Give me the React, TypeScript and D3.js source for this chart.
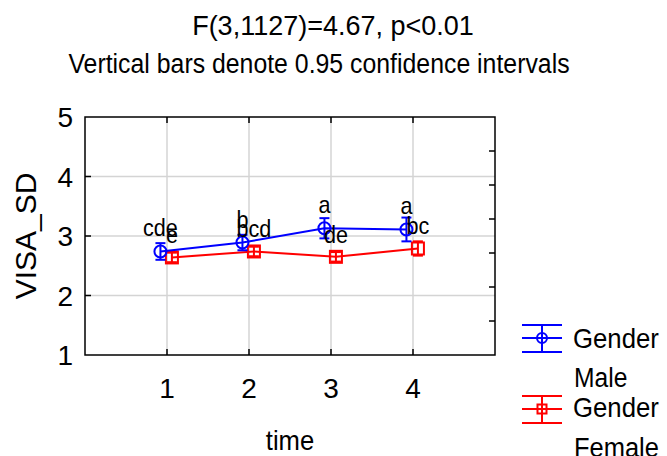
import React from 'react';
import * as d3 from 'd3';

// values
const times = [1, 2, 3, 4];
const maleMean = [2.74, 2.89, 3.13, 3.11];
const maleCI = [0.14, 0.13, 0.17, 0.2];
const femaleMean = [2.64, 2.74, 2.65, 2.79];
const femaleCI = [0.08, 0.08, 0.08, 0.12];
const maleLetters = ['cde', 'b', 'a', 'a'];
const femaleLetters = ['e', 'bcd', 'de', 'bc'];
const yTicks = [1, 2, 3, 4, 5];
const rightTicks = [1, 2, 3, 4, 5, 6];

const W = 667;
const H = 456;
const font = '"Liberation Sans", Arial, sans-serif';

// text with a slight horizontal squeeze, like the original renderer
const T = ({ x, y, size, anchor = 'start', sx = 1, rotate = 0, dy, children }: any) => (
  <g transform={`translate(${x},${y}) rotate(${rotate}) scale(${sx},1)`}>
    <text textAnchor={anchor} fontSize={size} dy={dy}>
      {children}
    </text>
  </g>
);

const App = () => {
  const left = 85;
  const right = 495;
  const top = 117;
  const bottom = 355;

  const x = d3.scaleLinear().domain([0, 5]).range([left, right]);
  const y = d3.scaleLinear().domain([1, 5]).range([bottom, top]);
  const yRight = d3.scaleLinear().domain([0, 7]).range([bottom, top]);

  const line = d3
    .line<number[]>()
    .x((d) => d[0])
    .y((d) => d[1]);

  const male = times.map((t, i) => [x(t - 0.08), y(maleMean[i])]);
  const female = times.map((t, i) => [x(t + 0.06), y(femaleMean[i])]);

  const blue = '#0000ff';
  const red = '#ff0000';

  return (
    <svg width={W} height={H} style={{ position: 'absolute', left: 0, top: 0 }} fontFamily={font}>
      <rect width={W} height={H} fill="#fff" />

      {/* titles */}
      <T x={333} y={35} size={27} anchor="middle">
        F(3,1127)=4.67, p&lt;0.01
      </T>
      <T x={319} y={73} size={27} sx={0.92} anchor="middle">
        Vertical bars denote 0.95 confidence intervals
      </T>

      {/* grid */}
      {times.map((t) => (
        <line key={'gx' + t} x1={x(t)} x2={x(t)} y1={top} y2={bottom} stroke="#d4d4d4" strokeWidth={1.5} />
      ))}
      {yTicks.slice(1, -1).map((v) => (
        <line key={'gy' + v} x1={left} x2={right} y1={y(v)} y2={y(v)} stroke="#d4d4d4" strokeWidth={1.5} />
      ))}

      {/* frame and inner ticks */}
      <rect x={left} y={top} width={right - left} height={bottom - top} fill="none" stroke="#000" strokeWidth={1.5} />
      {times.map((t) => (
        <g key={'tx' + t} stroke="#000" strokeWidth={1.5}>
          <line x1={x(t)} x2={x(t)} y1={top} y2={top + 6} />
          <line x1={x(t)} x2={x(t)} y1={bottom} y2={bottom - 6} />
        </g>
      ))}
      {yTicks.slice(1, -1).map((v) => (
        <line key={'ty' + v} x1={left} x2={left + 6} y1={y(v)} y2={y(v)} stroke="#000" strokeWidth={1.5} />
      ))}
      {rightTicks.map((v) => (
        <line key={'tr' + v} x1={right} x2={right - 6} y1={yRight(v)} y2={yRight(v)} stroke="#000" strokeWidth={1.5} />
      ))}

      {/* tick labels */}
      {yTicks.map((v) => (
        <T key={'ly' + v} x={73} y={y(v)} dy="0.36em" anchor="end" size={28}>
          {v}
        </T>
      ))}
      {times.map((t) => (
        <T key={'lx' + t} x={x(t)} y={398} anchor="middle" size={28}>
          {t}
        </T>
      ))}
      <T x={(left + right) / 2} y={450} anchor="middle" size={27} sx={0.95}>
        time
      </T>
      <T x={36} y={236} rotate={-90} anchor="middle" size={30}>
        VISA_SD
      </T>

      {/* female series */}
      <path d={line(female) || ''} fill="none" stroke={red} strokeWidth={2} />
      {female.map(([px, py], i) => {
        const lo = y(femaleMean[i] - femaleCI[i]);
        const hi = y(femaleMean[i] + femaleCI[i]);
        return (
          <g key={'f' + i} stroke={red} strokeWidth={2} fill="none">
            <line x1={px} x2={px} y1={lo} y2={hi} />
            <line x1={px - 5} x2={px + 5} y1={lo} y2={lo} />
            <line x1={px - 5} x2={px + 5} y1={hi} y2={hi} />
            <rect x={px - 6} y={py - 6} width={12} height={12} />
          </g>
        );
      })}

      {/* male series */}
      <path d={line(male) || ''} fill="none" stroke={blue} strokeWidth={2} />
      {male.map(([px, py], i) => {
        const lo = y(maleMean[i] - maleCI[i]);
        const hi = y(maleMean[i] + maleCI[i]);
        return (
          <g key={'m' + i} stroke={blue} strokeWidth={2} fill="none">
            <line x1={px} x2={px} y1={lo} y2={hi} />
            <line x1={px - 5} x2={px + 5} y1={lo} y2={lo} />
            <line x1={px - 5} x2={px + 5} y1={hi} y2={hi} />
            <circle cx={px} cy={py} r={6} />
          </g>
        );
      })}

      {/* significance letters */}
      {male.map(([px, py], i) => (
        <T key={'ml' + i} x={px} y={py - 15} anchor="middle" size={24} sx={0.9}>
          {maleLetters[i]}
        </T>
      ))}
      {female.map(([px, py], i) => (
        <T key={'fl' + i} x={px} y={py - 14} anchor="middle" size={24} sx={0.9}>
          {femaleLetters[i]}
        </T>
      ))}

      {/* legend */}
      <g stroke={blue} strokeWidth={2} fill="none">
        <line x1={522} x2={562} y1={325} y2={325} />
        <line x1={522} x2={562} y1={338} y2={338} />
        <line x1={522} x2={562} y1={352} y2={352} />
        <line x1={542} x2={542} y1={325} y2={352} />
        <circle cx={542} cy={338} r={5} />
      </g>
      <T x={573} y={348} size={28} sx={0.92}>Gender</T>
      <T x={574} y={387} size={28} sx={0.88}>Male</T>
      <g stroke={red} strokeWidth={2} fill="none">
        <line x1={522} x2={562} y1={396} y2={396} />
        <line x1={522} x2={562} y1={409} y2={409} />
        <line x1={522} x2={562} y1={423} y2={423} />
        <line x1={542} x2={542} y1={396} y2={423} />
        <rect x={537.5} y={404.5} width={9} height={9} />
      </g>
      <T x={573} y={417} size={28} sx={0.92}>Gender</T>
      <T x={574} y={457} size={28} sx={0.91}>Female</T>
    </svg>
  );
};

export default App;
